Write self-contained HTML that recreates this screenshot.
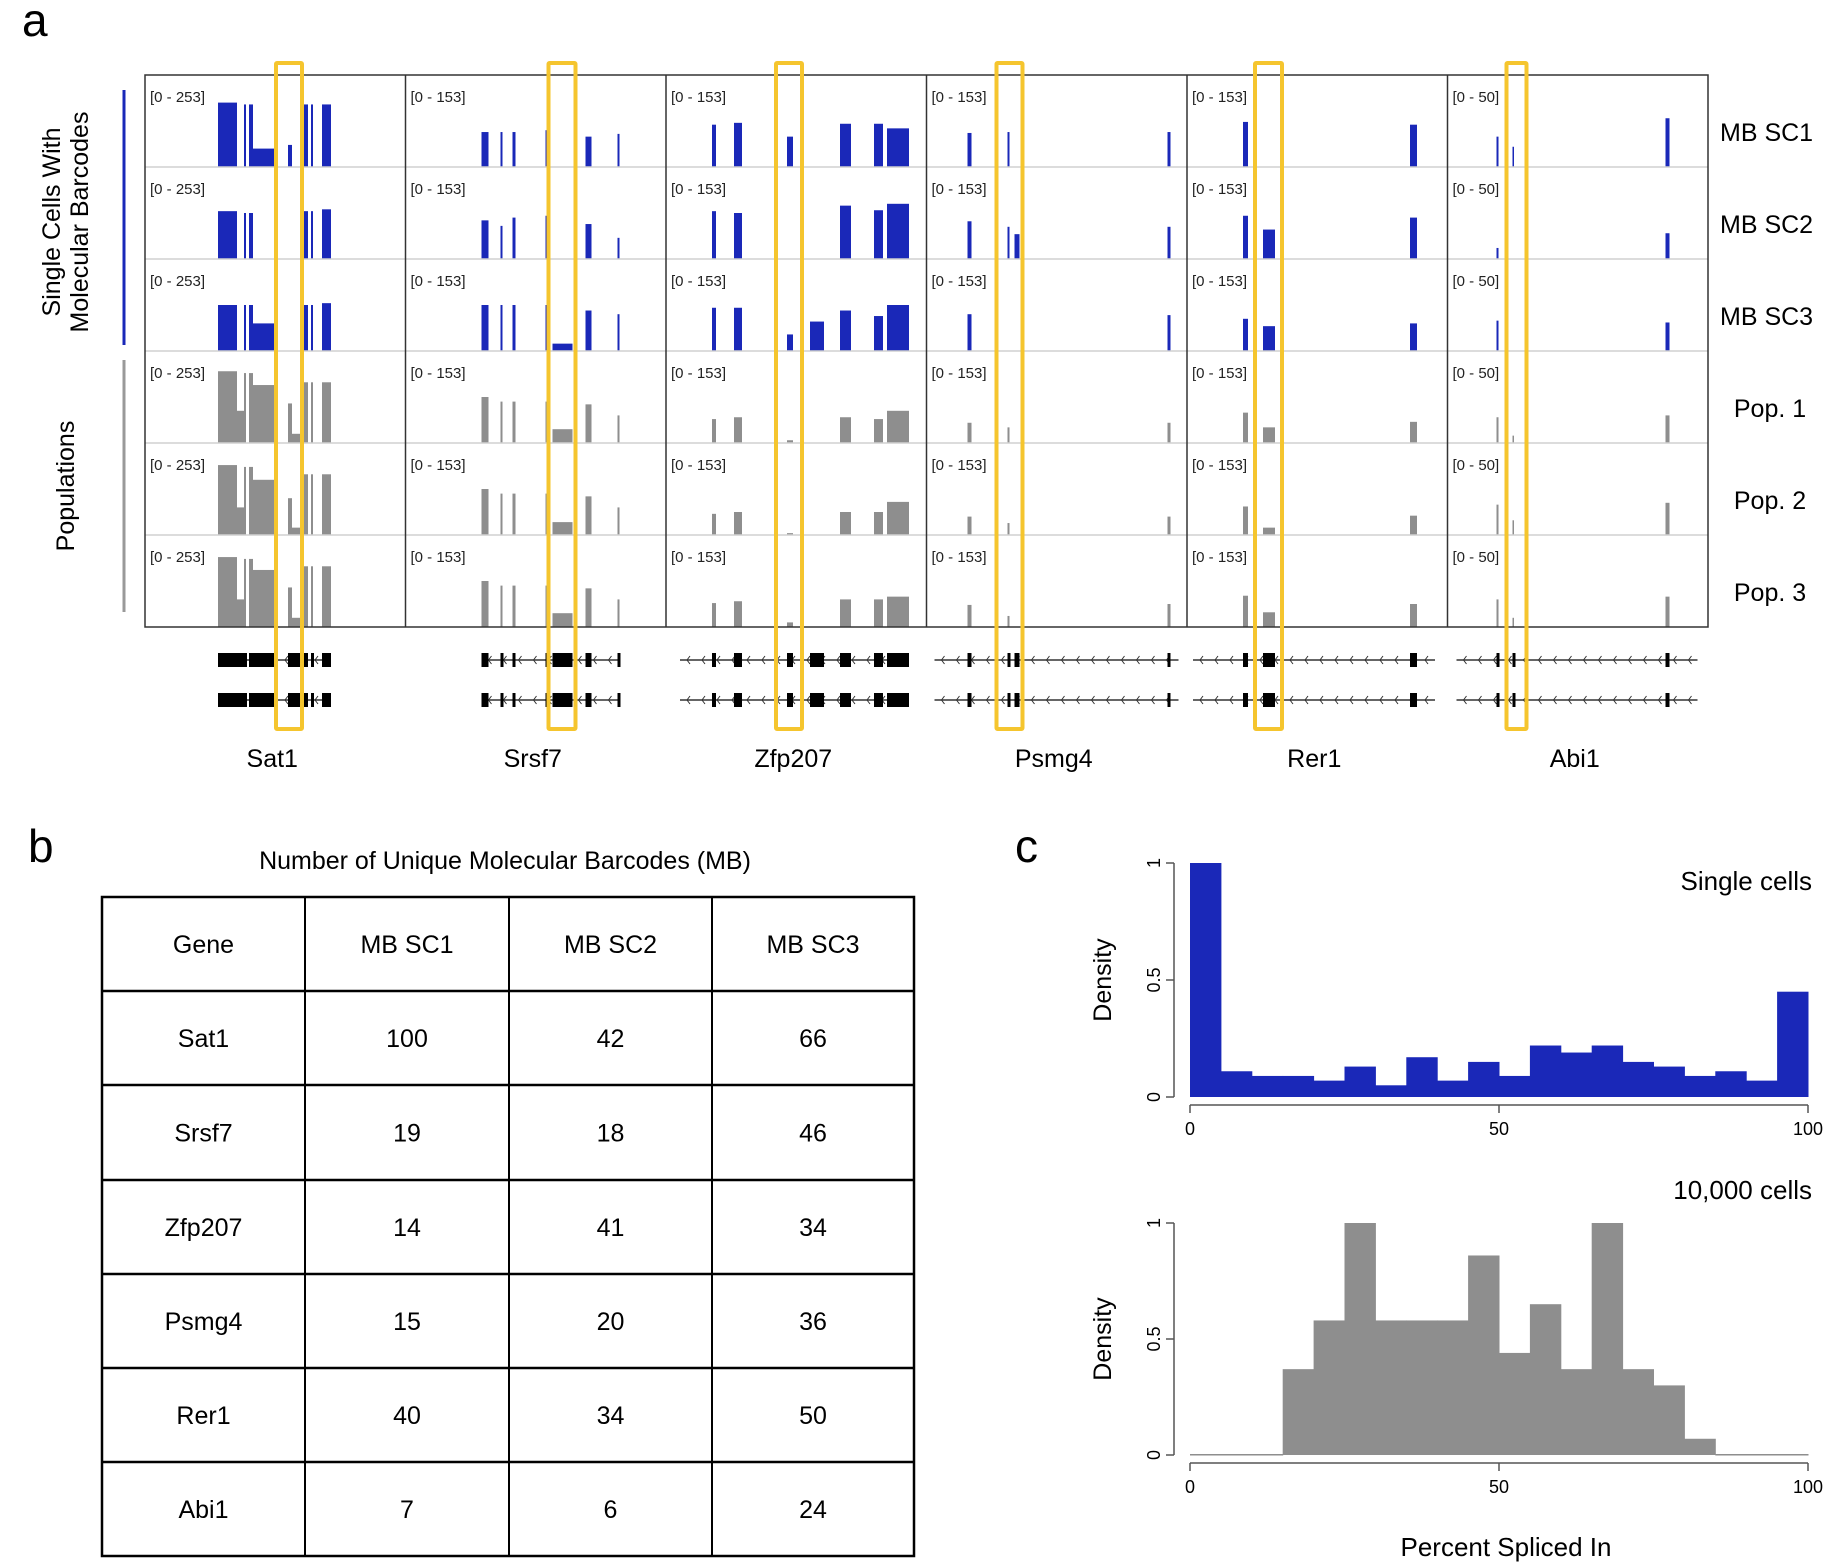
<!DOCTYPE html>
<html><head><meta charset="utf-8">
<style>
html,body{margin:0;padding:0;background:#fff;}
svg{display:block;font-family:"Liberation Sans",Arial,sans-serif;}
</style></head>
<body>
<svg id="fig" width="1833" height="1563" viewBox="0 0 1833 1563" xmlns="http://www.w3.org/2000/svg">
<text x="22" y="36" font-size="46">a</text>
<text x="28" y="862" font-size="46">b</text>
<text x="1015" y="862" font-size="46">c</text>
<g id="tracks"></g>
<g id="table"></g>
<g id="hists"></g>
</svg>
<script>
const NS="http://www.w3.org/2000/svg";
function mk(tag,attrs,parent,txt){const e=document.createElementNS(NS,tag);for(const k in attrs)e.setAttribute(k,attrs[k]);if(txt!==undefined)e.textContent=txt;parent.appendChild(e);return e;}

// ---------- Panel a data ----------
const genes=["Sat1","Srsf7","Zfp207","Psmg4","Rer1","Abi1"];
const ranges=["[0 - 253]","[0 - 153]","[0 - 153]","[0 - 153]","[0 - 153]","[0 - 50]"];
const trackNames=["MB SC1","MB SC2","MB SC3","Pop. 1","Pop. 2","Pop. 3"];
const sat1Exons=[[73,92],[92,99],[99,101],[104,108],[108,130],[143,147],[147,157],[159,163],[166,168],[177,186]];
const sat1Cov=[[.70,0,.68,.68,.2,.24,0,.68,.68,.68],[.52,0,.5,.5,0,0,0,.52,.52,.54],[.50,0,.5,.5,.3,0,0,.5,.5,.52],[.78,.35,.76,.76,.63,.43,.1,.66,.66,.66],[.76,.3,.74,.74,.6,.4,.08,.66,.66,.66],[.76,.3,.74,.74,.62,.43,.1,.66,.66,.66]];
const srsf7Exons=[[76,83],[95,97],[107,110],[140,143],[147,167],[169,171],[180,186],[212,214]];
const srsf7Cov=[[.38,.38,.38,.4,0,.4,.33,.36],[.42,.36,.45,.47,0,.4,.38,.23],[.5,.5,.5,.5,.08,.1,.44,.4],[.5,.45,.45,.45,.15,.42,.42,.3],[.5,.45,.45,.45,.14,.42,.42,.3],[.5,.45,.45,.45,.15,.42,.42,.3]];
const zfpExons=[[46,50],[68,76],[121,127],[144,158],[174,185],[208,217],[221,243]];
const zfpCov=[[.46,.48,.33,0,.47,.47,.42],[.52,.5,0,0,.58,.53,.6],[.47,.47,.18,.32,.44,.38,.5],[.26,.28,.03,0,.28,.26,.35],[.23,.25,.02,0,.25,.25,.36],[.26,.28,.05,0,.3,.3,.33]];
const psmgExons=[[41,45],[81,83],[88,93],[241,244]];
const psmgCov=[[.37,.38,0,.38],[.41,.35,.27,.35],[.4,0,0,.39],[.22,.17,0,.22],[.2,.13,0,.2],[.24,.12,0,.25]];
const rerExons=[[56,61],[76,88],[223,230]];
const rerCov=[[.49,0,.46],[.47,.32,.45],[.35,.27,.3],[.33,.17,.23],[.31,.08,.21],[.34,.16,.25]];
const abiExons=[[49,51],[65,66],[218,222]];
const abiCov=[[.33,.22,.53],[.12,0,.28],[.33,0,.31],[.28,.08,.3],[.33,.16,.35],[.3,.1,.33]];
const exonSets=[sat1Exons,srsf7Exons,zfpExons,psmgExons,rerExons,abiExons];
const covSets=[sat1Cov,srsf7Cov,zfpCov,psmgCov,rerCov,abiCov];
const modelSpan=[[73,186],[76,214],[14,243],[8,252],[6,248],[9,250]];
const highlight=[[131,157],[143,170],[110,136],[70,96],[68,95],[59,79]];

const colX=i=>145+i*260.5, colW=260.5, rowTop=r=>75+r*92, rowH=92;
const T=document.getElementById('tracks');
for(let g=0;g<6;g++){
  const cx=colX(g);
  for(let r=0;r<6;r++){
    const base=rowTop(r)+rowH;
    mk('text',{x:cx+5,y:rowTop(r)+27,'font-size':15,fill:'#222'},T,ranges[g]);
    exonSets[g].forEach((ex,k)=>{
      const h=covSets[g][r][k]*rowH; if(h<=0)return;
      const b=mk('rect',{x:cx+ex[0],y:base-h,width:Math.max(1.5,ex[1]-ex[0]),height:h,fill:r<3?'#1a28b8':'#8e8e8e'},T);
      
      
    });
    if(r<5) mk('line',{x1:cx,x2:cx+colW,y1:base,y2:base,stroke:'#d0d0d0','stroke-width':1.5},T);
  }
  if(g>0) mk('line',{x1:cx,x2:cx,y1:75,y2:627,stroke:'#333','stroke-width':1.5},T);
  [660,700].forEach(gy=>{
    mk('line',{x1:cx+modelSpan[g][0],x2:cx+modelSpan[g][1],y1:gy,y2:gy,stroke:'#333','stroke-width':1.5},T);
    for(let ax=cx+modelSpan[g][0]+8;ax<cx+modelSpan[g][1]-4;ax+=15)
      mk('path',{d:`M${ax+2},${gy-4} L${ax-1},${gy} L${ax+2},${gy+4}`,stroke:'#333',fill:'none','stroke-width':1},T);
    exonSets[g].forEach((ex,k)=>{
      const w=Math.max(3,ex[1]-ex[0]);
      mk('rect',{x:cx+ex[0],y:gy-7,width:w,height:14,fill:'#000'},T);
    });
  });
  const gl=mk('text',{x:cx+colW/2-3,y:767,'font-size':25,'text-anchor':'middle'},T,genes[g]);
  
  
}
mk('rect',{x:145,y:75,width:1563,height:552,fill:'none',stroke:'#333','stroke-width':1.5},T);
for(let g=0;g<6;g++){
  const hb=mk('rect',{x:colX(g)+highlight[g][0],y:63,width:highlight[g][1]-highlight[g][0],height:666,fill:'none',stroke:'#f5c52e','stroke-width':4,rx:1},T);
  
  
}
trackNames.forEach((n,r)=>{
  const t=mk('text',{x:r<3?1720:1770,y:rowTop(r)+66,'font-size':25,'text-anchor':r<3?'start':'middle'},T,n);
  
  
});
mk('line',{x1:124,x2:124,y1:90,y2:345,stroke:'#1a28b8','stroke-width':3},T);
mk('line',{x1:124,x2:124,y1:360,y2:612,stroke:'#999','stroke-width':3},T);
mk('text',{transform:'translate(60,222) rotate(-90)','font-size':25,'text-anchor':'middle'},T,'Single Cells With');
mk('text',{transform:'translate(88,222) rotate(-90)','font-size':25,'text-anchor':'middle'},T,'Molecular Barcodes');
mk('text',{transform:'translate(74,486) rotate(-90)','font-size':25,'text-anchor':'middle'},T,'Populations');

// ---------- Panel b table ----------
const tableHeader=["Gene","MB SC1","MB SC2","MB SC3"];
const tableGenes=["Sat1","Srsf7","Zfp207","Psmg4","Rer1","Abi1"];
const sc1=[100,19,14,15,40,7];
const sc2=[42,18,41,20,34,6];
const sc3=[66,46,34,36,50,24];
const TB=document.getElementById('table');
mk('text',{x:505,y:869,'font-size':25,'text-anchor':'middle'},TB,'Number of Unique Molecular Barcodes (MB)');
const colsX=[102,305,509,712,914], rowsY=[897,991,1085,1180,1274,1368,1462,1556];
mk('rect',{x:102,y:897,width:812,height:659,fill:'none',stroke:'#000','stroke-width':2.5},TB);
colsX.slice(1,4).forEach(x=>mk('line',{x1:x,x2:x,y1:897,y2:1556,stroke:'#000','stroke-width':2},TB));
rowsY.slice(1,7).forEach(y=>mk('line',{x1:102,x2:914,y1:y,y2:y,stroke:'#000','stroke-width':2.5},TB));
const cell=(c,r,txt)=>{const t=mk('text',{x:(colsX[c]+colsX[c+1])/2,y:(rowsY[r]+rowsY[r+1])/2+9,'font-size':25,'text-anchor':'middle'},TB,txt);
  
  };
tableHeader.forEach((h,c)=>cell(c,0,h));
tableGenes.forEach((g,i)=>{cell(0,i+1,g);cell(1,i+1,sc1[i]);cell(2,i+1,sc2[i]);cell(3,i+1,sc3[i]);});

// ---------- Panel c histograms ----------
const binEdges=[0,5,10,15,20,25,30,35,40,45,50,55,60,65,70,75,80,85,90,95,100];
const singleDensity=[1.0,.11,.09,.09,.07,.13,.05,.17,.07,.15,.09,.22,.19,.22,.15,.13,.09,.11,.07,.45];
const popDensity=[0,0,0,.37,.58,1.0,.58,.58,.58,.86,.44,.65,.37,1.0,.37,.30,.07,0,0,0];
const xTicks=[0,50,100];
const yTicks=[0,0.5,1];
const H=document.getElementById('hists');
const xs=v=>1190+v*6.18;
function hist(vals,y0,y1,color,name){
  const ys=v=>y0-v*(y0-y1);
  vals.forEach((v,i)=>{
    const x=xs(binEdges[i]), w=xs(binEdges[i+1])-x;
    const b=mk('rect',{x:x,y:ys(v)-(v===0?1:0),width:w+0.5,height:Math.max(1.5,y0-ys(v)),fill:color},H);
    
    
  });
  const ax=y0+8;
  mk('line',{x1:xs(0),x2:xs(100),y1:ax,y2:ax,stroke:'#555','stroke-width':1.5},H);
  xTicks.forEach(t=>{mk('line',{x1:xs(t),x2:xs(t),y1:ax,y2:ax+8,stroke:'#555','stroke-width':1.5},H);
    mk('text',{x:xs(t),y:ax+30,'font-size':18,'text-anchor':'middle'},H,t);});
  mk('line',{x1:1174,x2:1174,y1:ys(0),y2:ys(1),stroke:'#555','stroke-width':1.5},H);
  yTicks.forEach(t=>{mk('line',{x1:1166,x2:1174,y1:ys(t),y2:ys(t),stroke:'#555','stroke-width':1.5},H);
    mk('text',{transform:`translate(1160,${ys(t)}) rotate(-90)`,'font-size':18,'text-anchor':'middle'},H,t);});
  mk('text',{transform:`translate(1111,${(y0+y1)/2}) rotate(-90)`,'font-size':25,'text-anchor':'middle'},H,'Density');
}
hist(singleDensity,1097,863,'#1a28b8','single-cell-bar');
hist(popDensity,1455,1223,'#8e8e8e','population-bar');
mk('text',{x:1812,y:890,'font-size':26,'text-anchor':'end'},H,'Single cells');
mk('text',{x:1812,y:1199,'font-size':26,'text-anchor':'end'},H,'10,000 cells');
mk('text',{x:1506,y:1556,'font-size':26,'text-anchor':'middle'},H,'Percent Spliced In');
</script>
</body></html>
